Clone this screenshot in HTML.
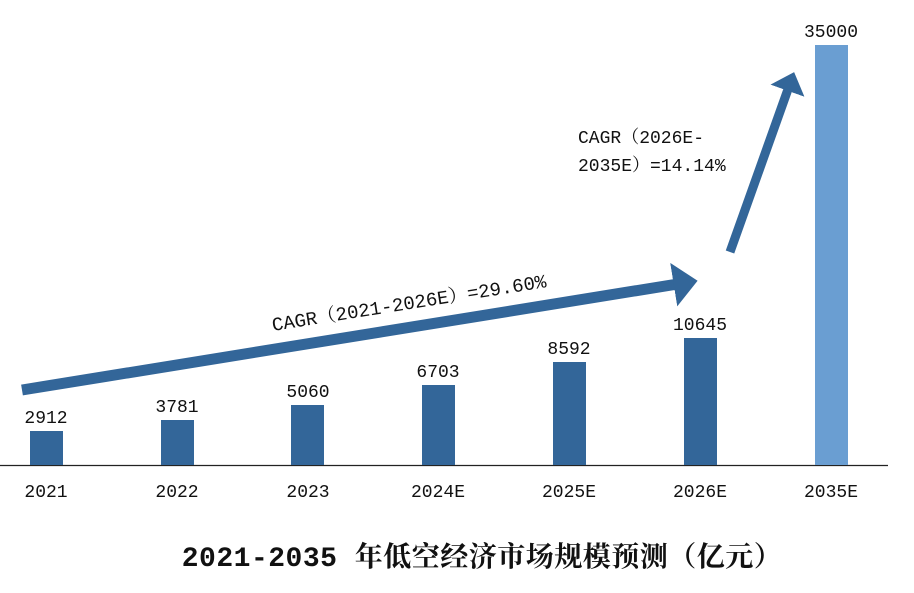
<!DOCTYPE html>
<html><head><meta charset="utf-8"><style>
body{margin:0;background:#fff;}
svg text{font-family:"Liberation Mono","Noto Serif CJK SC",monospace;}
</style></head><body>
<svg width="914" height="588" viewBox="0 0 914 588" xmlns="http://www.w3.org/2000/svg">
<defs>
<marker id="ah" markerWidth="4" markerHeight="4" refX="1.5" refY="2" orient="auto" markerUnits="strokeWidth">
<path d="M0,0 L2.2,2 L0,4 Z" fill="#336699"/>
</marker>
</defs>
<line x1="0" y1="465.5" x2="888" y2="465.5" stroke="#222" stroke-width="1.2"/>
<g fill="#336699">
<rect x="30" y="431" width="33" height="34"/>
<rect x="161" y="420" width="33" height="45"/>
<rect x="291" y="405" width="33" height="60"/>
<rect x="422" y="385" width="33" height="80"/>
<rect x="553" y="362" width="33" height="103"/>
<rect x="684" y="338" width="33" height="127"/>
</g>
<rect x="815" y="45" width="33" height="420" fill="#6a9ed2"/>
<g font-size="18" fill="#111" text-anchor="middle">
<text x="46" y="423">2912</text>
<text x="177" y="412">3781</text>
<text x="308" y="397">5060</text>
<text x="438" y="377">6703</text>
<text x="569" y="354">8592</text>
<text x="700" y="330">10645</text>
<text x="831" y="37">35000</text>
<text x="46" y="497">2021</text>
<text x="177" y="497">2022</text>
<text x="308" y="497">2023</text>
<text x="438" y="497">2024E</text>
<text x="569" y="497">2025E</text>
<text x="700" y="497">2026E</text>
<text x="831" y="497">2035E</text>
</g>
<line x1="22" y1="390" x2="690" y2="282" stroke="#336699" stroke-width="11" marker-end="url(#ah)"/>
<line x1="730" y1="252" x2="792" y2="78" stroke="#336699" stroke-width="9" marker-end="url(#ah)"/>
<text x="410" y="309" font-size="19" fill="#111" text-anchor="middle" transform="rotate(-9.1 410 309)">CAGR（2021-2026E）=29.60%</text>
<text x="578" y="143" font-size="18" fill="#111">CAGR（2026E-</text>
<text x="578" y="171" font-size="18" fill="#111">2035E）=14.14%</text>
<text x="482" y="566" font-size="28" font-weight="bold" fill="#111" text-anchor="middle" letter-spacing="0.5">2021-2035 年低空经济市场规模预测（亿元）</text>
</svg>
</body></html>
